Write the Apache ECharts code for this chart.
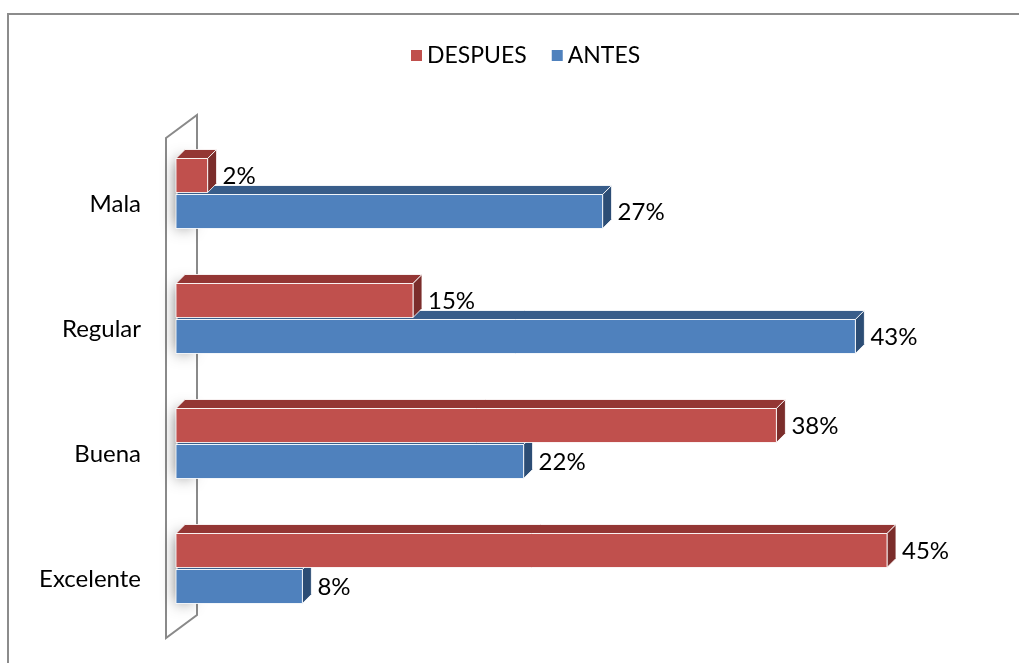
<!DOCTYPE html>
<html>
<head>
<meta charset="utf-8">
<script src="https://cdn.jsdelivr.net/npm/echarts@6/dist/echarts.min.js"></script>
<style>
  html, body { margin: 0; padding: 0; background: #fff; }
  #chart { width: 1019px; height: 663px; }
</style>
</head>
<body>
<div id="chart"></div>
<script>
// Survey ratings before / after, in percent
const categories = ['Mala', 'Regular', 'Buena', 'Excelente'];
const despues = [2, 15, 38, 45];
const antes = [27, 43, 22, 8];
const seriesNames = ['DESPUES', 'ANTES'];

const FONT = 'Lato';
const GRID = { left: 176, top: 131, width: 790, height: 500 };
const DEPTH = 9;

const palette = {
  DESPUES: { front: '#C0504D', top: '#943634', side: '#7B2D2B' },
  ANTES:   { front: '#4F81BD', top: '#385D8A', side: '#2C4D75' }
};

// Draws one bar as a front face plus top and right faces for a 3D look
function makeRenderer(name, upper) {
  const col = palette[name];
  return function (params, api) {
    const v = api.value(0);
    const ci = api.value(1);
    const p0 = api.coord([0, ci]);
    const p1 = api.coord([v, ci]);
    const band = api.size([0, 1])[1];
    const h = band * 0.272;
    const gap = band * 0.008;
    const c = p0[1];
    const top = upper ? c - gap - h : c + gap;
    const x0 = p0[0], x1 = p1[0], d = DEPTH;
    const edge = 'rgba(255,255,255,0.85)';
    const children = [];
    if (!upper) {
      // soft shade cast on the side wall by the bar pair
      children.push({
        type: 'rect',
        shape: { x: x0 + 2, y: c - gap - h + 2, width: 12, height: 2 * (h + gap) - 4 },
        style: { fill: '#fff', shadowBlur: 16, shadowColor: 'rgba(0,0,0,0.7)' },
        z2: 0
      });
    }
    children.push(
      {
        type: 'polygon',
        shape: { points: [[x0, top], [x0 + d, top - d], [x1 + d, top - d], [x1, top]] },
        style: { fill: col.top, stroke: edge, lineWidth: 1 },
        z2: 1
      },
      {
        type: 'polygon',
        shape: { points: [[x1, top], [x1 + d, top - d], [x1 + d, top - d + h], [x1, top + h]] },
        style: { fill: col.side, stroke: edge, lineWidth: 1 },
        z2: 1
      },
      {
        type: 'rect',
        shape: { x: x0, y: top, width: x1 - x0, height: h },
        style: { fill: col.front, stroke: edge, lineWidth: 1 },
        z2: 2
      },
      {
        type: 'text',
        x: x1 + d + 6,
        y: top + h / 2 + 1,
        style: {
          text: v + '%',
          fill: '#000',
          font: '24px ' + FONT,
          verticalAlign: 'middle',
          align: 'left'
        },
        z2: 3
      }
    );
    return { type: 'group', children: children };
  };
}

const chart = echarts.init(document.getElementById('chart'), null, { renderer: 'canvas' });

// Side wall and outer frame, placed from the grid geometry
const gx = GRID.left, gt = GRID.top, gb = GRID.top + GRID.height;
const wall = [[gx - 10, gt + 7], [gx + 21, gt - 16], [gx + 21, gb - 16], [gx - 10, gb + 7]];

chart.setOption({
  animation: false,
  backgroundColor: '#fff',
  textStyle: { fontFamily: FONT },
  graphic: [
    {
      type: 'rect', z: -10,
      shape: { x: 8, y: 14, width: 1100, height: 700 },
      style: { fill: '#fff', stroke: '#8c8c8c', lineWidth: 2 }
    },
    {
      type: 'polygon', z: -5,
      shape: { points: wall },
      style: { fill: '#fff', stroke: '#8a8a8a', lineWidth: 2 }
    }
  ],
  legend: {
    data: seriesNames,
    left: 406,
    top: 39,
    icon: 'rect',
    itemWidth: 11,
    itemHeight: 11,
    itemGap: 25,
    textStyle: { fontFamily: FONT, fontSize: 23, color: '#000' }
  },
  grid: { left: GRID.left, top: GRID.top, width: GRID.width, height: GRID.height, containLabel: false },
  xAxis: { type: 'value', min: 0, max: 50, show: false },
  yAxis: {
    type: 'category',
    inverse: true,
    data: categories,
    axisLine: { show: false },
    axisTick: { show: false },
    splitLine: { show: false },
    axisLabel: {
      fontFamily: FONT,
      fontSize: 24,
      color: '#000',
      margin: 35,
      verticalAlign: 'top',
      lineHeight: 22
    }
  },
  series: [
    {
      name: 'ANTES',
      type: 'custom',
      renderItem: makeRenderer('ANTES', false),
      itemStyle: { color: palette.ANTES.front },
      encode: { x: 0, y: 1 },
      clip: false,
      data: antes.map((v, i) => [v, i])
    },
    {
      name: 'DESPUES',
      type: 'custom',
      renderItem: makeRenderer('DESPUES', true),
      itemStyle: { color: palette.DESPUES.front },
      encode: { x: 0, y: 1 },
      clip: false,
      data: despues.map((v, i) => [v, i])
    }
  ]
});
</script>
</body>
</html>
